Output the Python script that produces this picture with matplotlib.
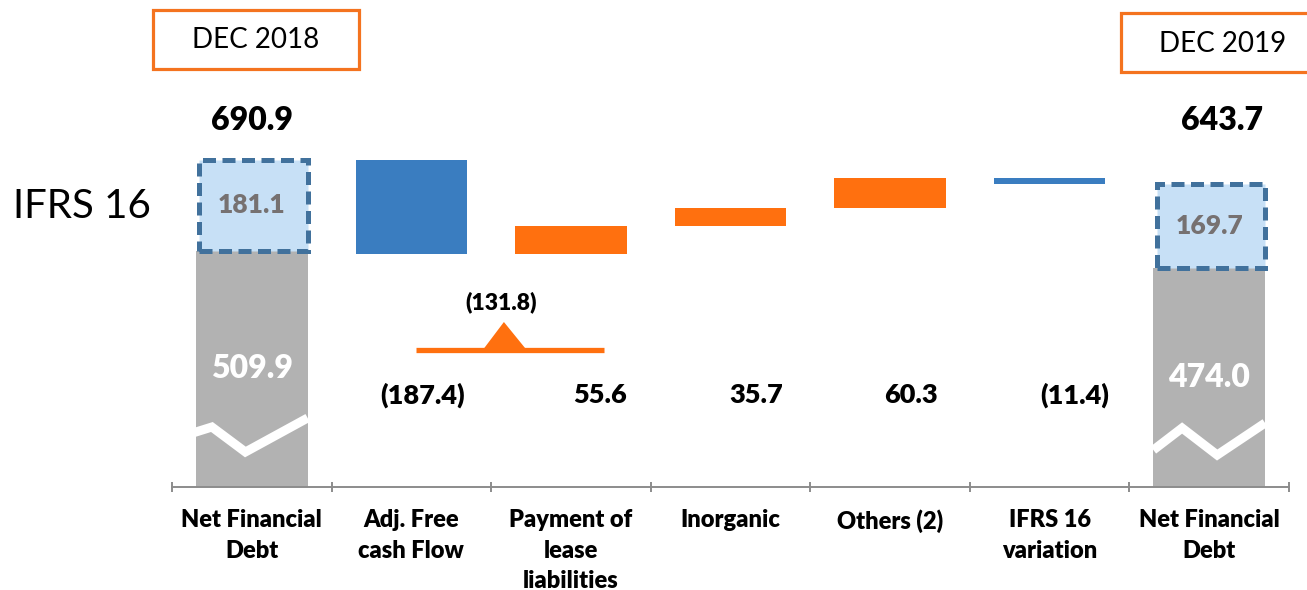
import matplotlib
matplotlib.use("Agg")
import matplotlib.pyplot as plt
from matplotlib.patches import Rectangle, Polygon
import numpy as np

# ---------------- data ----------------
categories = ["Net Financial\nDebt", "Adj. Free\ncash Flow", "Payment of\nlease\nliabilities",
              "Inorganic", "Others (2)", "IFRS 16\nvariation", "Net Financial\nDebt"]
start_core = 509.9
start_ifrs = 181.1
start_total = 690.9
deltas = [-187.4, 55.6, 35.7, 60.3, -11.4]
delta_kind = ["blue", "orange", "orange", "orange", "blue"]
end_core = 474.0
end_ifrs = 169.7
end_total = 643.7
period_labels = ["DEC 2018", "DEC 2019"]
side_label = "IFRS 16"

# ---------------- style ----------------
FONT = "Lato"
HEAVY = "heavy"
GRAY = "#B2B2B2"
BLUE = "#3A7DC0"
ORANGE = "#FF700F"
LIGHT = "#C7E0F6"
DASH = "#41719C"
LABEL_GRAY = "#767171"
BOXC = "#F4731F"
W = 0.70

fig = plt.figure(figsize=(13.07, 5.90), dpi=100)
W_PX, H_PX = 1307, 590
ax = fig.add_axes([172 / W_PX, 103 / H_PX, 1117 / W_PX, 487 / H_PX])
ax.set_xlim(-0.5, 6.5)
ax.set_ylim(36.9, 1010.9)

# first / last stacked bars (core truncated by the broken axis)
for i, core, ifrs in [(0, start_core, start_ifrs), (6, end_core, end_ifrs)]:
    ax.bar(i, core, width=W, color=GRAY, zorder=2)
    ax.add_patch(Rectangle((i - W / 2 + 0.02, core), W - 0.02, ifrs, facecolor=LIGHT,
                           edgecolor=DASH, linewidth=3.6, linestyle=(0, (2.6, 1.3)), zorder=3))

# waterfall steps
cum = start_total
for k, d in enumerate(deltas):
    i = k + 1
    lo, hi = min(cum, cum + d), max(cum, cum + d)
    ax.bar(i, hi - lo, bottom=lo, width=W, color=BLUE if delta_kind[k] == "blue" else ORANGE,
           zorder=2)
    cum += d

# break zig-zags
zig = {0: ([-0.37, -0.25, -0.04, 0.35], [144.9, 156.9, 106.9, 174.9]),
       6: ([-0.35, -0.17, 0.05, 0.35], [110.9, 154.9, 100.9, 164.9])}
for i, (xs, ys) in zig.items():
    ax.plot(np.array(xs) + i, ys, color="white", lw=6.5, solid_joinstyle="miter",
            solid_capstyle="butt", zorder=4)

# value labels
bold = dict(fontfamily=FONT, fontweight=HEAVY)
ax.text(0, 768.9, f"{start_total:.1f}", ha="center", va="center", fontsize=23, color="black", **bold)
ax.text(6.08, 768.9, f"{end_total:.1f}", ha="center", va="center", fontsize=23, color="black", **bold)
ax.text(0, start_core + start_ifrs / 2, f"{start_ifrs:.1f}", ha="center", va="center",
        fontsize=19, color=LABEL_GRAY, zorder=5, **bold)
ax.text(6, end_core + end_ifrs / 2, f"{end_ifrs:.1f}", ha="center", va="center",
        fontsize=19, color=LABEL_GRAY, zorder=5, **bold)
ax.text(0, 273.9, f"{start_core:.1f}", ha="center", va="center", fontsize=23, color="white",
        zorder=5, **bold)
ax.text(6, 255.9, f"{end_core:.1f}", ha="center", va="center", fontsize=23, color="white",
        zorder=5, **bold)


def fmt(v):
    return f"({abs(v):.1f})" if v < 0 else f"{v:.1f}"


label_dx = [0.07, 0.18, 0.16, 0.13, 0.16]
for k, d in enumerate(deltas):
    ax.text(k + 1 + label_dx[k], 220.9, fmt(d), ha="center", va="center", fontsize=19.5,
            color="black", **bold)

# bracket for lease-related sum
sub = deltas[0] + deltas[1]
ax.plot([1.03, 2.21], [311.9, 311.9], color=ORANGE, lw=3.8, solid_capstyle="butt", zorder=3)
ax.add_patch(Polygon([[1.45, 311.9], [1.58, 366.9], [1.72, 311.9]], closed=True,
                     facecolor=ORANGE, edgecolor="none", zorder=3))
ax.text(1.56, 406.9, fmt(sub), ha="center", va="center", fontsize=16.5, color="black", **bold)

# axes styling
for s in ["top", "left", "right"]:
    ax.spines[s].set_visible(False)
ax.spines["bottom"].set_color("#8C8C8C")
ax.spines["bottom"].set_linewidth(1.4)
ax.set_yticks([])
ax.set_xticks(range(len(categories)))
ax.set_xticklabels(categories, fontfamily=FONT, fontweight=HEAVY, fontsize=17, linespacing=1.47)
ax.set_xticks(np.arange(-0.5, 7.0, 1.0), minor=True)
ax.tick_params(axis="x", which="major", length=0, pad=16)
ax.tick_params(axis="x", which="minor", length=7, width=1.4, color="#8C8C8C", direction="inout")

# period boxes (figure pixel coordinates)
def fig_box(x0, y0, x1, y1, text, tx, ty):
    fig.add_artist(Rectangle((x0 / W_PX, 1 - y1 / H_PX), (x1 - x0) / W_PX, (y1 - y0) / H_PX,
                             transform=fig.transFigure, facecolor="white", edgecolor=BOXC,
                             linewidth=2.3, clip_on=False))
    fig.text(tx / W_PX, 1 - ty / H_PX, text, ha="center", va="center", fontfamily=FONT,
             fontsize=20, color="black")


fig_box(153, 10, 359, 69, period_labels[0], 256, 40)
fig_box(1121, 13, 1312, 72, period_labels[1], 1223, 44)

fig.text(82 / W_PX, 1 - 206 / H_PX, side_label, ha="center", va="center", fontfamily=FONT,
         fontsize=29, color="black")

fig.savefig("out.png", dpi=100, facecolor="white")
